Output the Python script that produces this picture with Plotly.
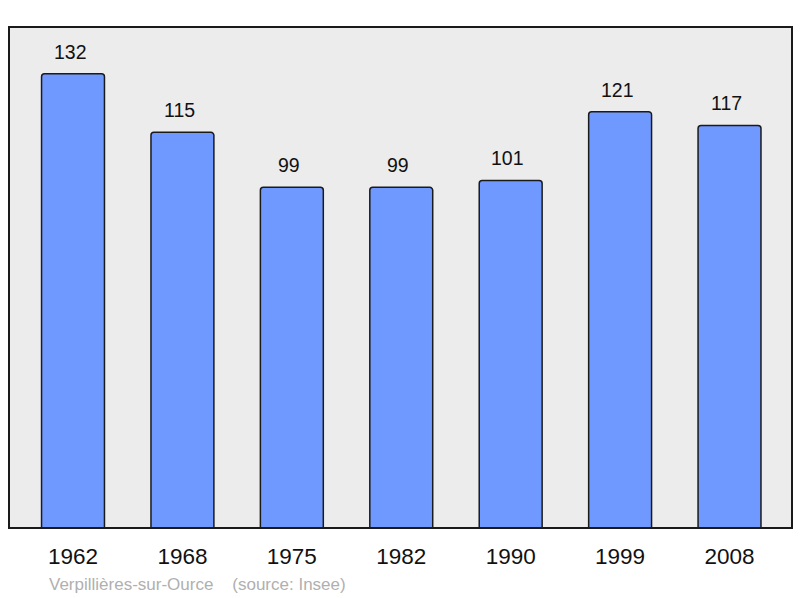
import plotly.graph_objects as go

years = ["1962", "1968", "1975", "1982", "1990", "1999", "2008"]
population = [132, 115, 99, 99, 101, 121, 117]
footer_place = "Verpillières-sur-Ource"
footer_source = "(source: Insee)"

fig = go.Figure()
fig.add_trace(go.Bar(
    x=years, y=population,
    width=0.575,
    marker=dict(color="#7099ff", line=dict(color="#1a1a1a", width=1.5), cornerradius=3),
    hoverinfo="x+y",
))

for i, v in enumerate(population):
    fig.add_annotation(x=i, y=v, text=str(v), showarrow=False,
                       yanchor="bottom", yshift=9, xshift=-3,
                       font=dict(family="Liberation Sans, Arial", size=19.5, color="#111"))

fig.add_annotation(xref="paper", yref="paper", x=0.049, y=-0.112,
                   xanchor="left", yanchor="middle", showarrow=False,
                   text=footer_place + "    " + footer_source,
                   font=dict(family="Liberation Sans, Arial", size=17, color="#b0b0b0"))

fig.add_shape(type="rect", xref="paper", yref="paper", x0=0, y0=0, x1=1, y1=1,
              line=dict(color="#1a1a1a", width=2), layer="above")

fig.update_layout(
    width=800, height=598,
    margin=dict(l=9, r=8, t=27, b=70),
    paper_bgcolor="white", plot_bgcolor="#ececec",
    showlegend=False,
    xaxis=dict(type="category", range=[-0.585, 6.571], showgrid=False, zeroline=False,
               ticks="outside", ticklen=8, tickcolor="rgba(0,0,0,0)",
               tickfont=dict(family="Liberation Sans, Arial", size=22.5, color="#111")),
    yaxis=dict(range=[0, 145.6], showgrid=False, zeroline=False,
               showticklabels=False),
)

fig.write_html("out.html", config={"displayModeBar": False},
               post_script="document.body.style.margin='0';document.body.style.overflow='hidden';")
